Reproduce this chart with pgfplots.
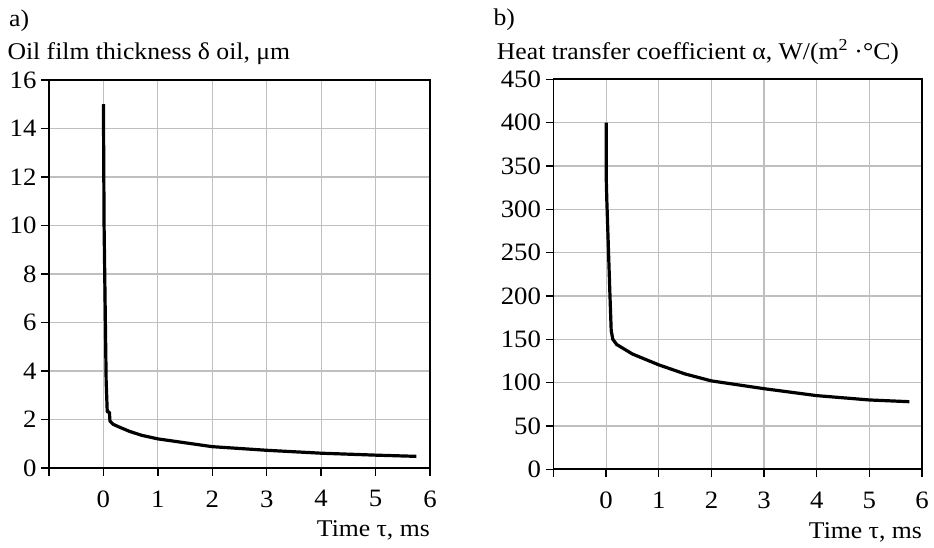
\documentclass[border=0pt]{standalone}
\usepackage{fontspec}
\setmainfont[FakeStretch=1.07]{Liberation Serif}
\usepackage{pgfplots}
\pgfplotsset{compat=1.18}
\pgfplotsset{
  panel/.style={
    scale only axis,
    anchor=south west,
    xmin=-1, xmax=6,
    xtick={-1,0,...,6},
    xticklabels={,0,1,2,3,4,5,6},
    grid=major,
    grid style={draw=black!25, line width=1.2pt},
    axis line style={line width=1.6pt},
    every tick/.style={black, line width=1.4pt},
    tick align=outside,
    major tick length=8pt,
    xtick pos=left, ytick pos=left,
    /pgf/number format/assume math mode=true,
    tick label style={font=\fontsize{25}{28}\selectfont},
    xticklabel style={yshift=-11pt},
    yticklabel style={xshift=-1pt},
    every axis x label/.style={at={(axis description cs:1,0)}, anchor=base east, inner sep=0pt, yshift=-69pt, font=\fontsize{24}{28}\selectfont},
    every axis title/.style={at={(axis description cs:0,1)}, anchor=base west, inner sep=0pt, font=\fontsize{24}{28}\selectfont},
    xlabel={Time τ, ms},
  }
}
\begin{document}
\begin{tikzpicture}
\path[use as bounding box] (0,0) rectangle (934pt,548pt);
\begin{axis}[panel,
  at={(49pt,80pt)}, width=381pt, height=388pt,
  ymin=0, ymax=16, ytick={0,2,...,16},
  every axis y label/.style={at={(axis description cs:0,1)}, anchor=base west, inner sep=0pt, xshift=-41.7pt, yshift=20pt, font=\fontsize{24}{28}\selectfont},
  ylabel={Oil film thickness δ oil, μm},
  title={a)}, title style={xshift=-40pt, yshift=53pt},
]
\addplot[black, line width=3.2pt, line join=round] coordinates {
(0,15) (0.012,10) (0.05,3.6) (0.07,2.32) (0.11,2.3) (0.12,1.93)
(0.18,1.8) (0.3,1.68) (0.48,1.51) (0.7,1.35) (1,1.2) (1.5,1.04)
(2,0.88) (3,0.73) (4,0.61) (5,0.53) (5.75,0.48)
};
\end{axis}
\begin{axis}[panel,
  at={(553.5pt,78.7pt)}, width=368.5pt, height=390pt,
  ymin=0, ymax=450, ytick={0,50,...,450},
  every axis y label/.style={at={(axis description cs:0,1)}, anchor=base west, inner sep=0pt, xshift=-56.8pt, yshift=20pt, font=\fontsize{24}{28}\selectfont},
  ylabel={Heat transfer coefficient α, W/(m\textsuperscript{2} ·°C)},
  title={b)}, title style={xshift=-60.2pt, yshift=54pt},
]
\addplot[black, line width=3.2pt, line join=round] coordinates {
(0,400) (0,340) (0.013,310) (0.07,205) (0.096,160) (0.127,150)
(0.2,144) (0.5,133) (1,120.5) (1.5,110) (2,102) (3,93)
(4,85) (5,80) (5.76,78)
};
\end{axis}
\end{tikzpicture}
\end{document}
